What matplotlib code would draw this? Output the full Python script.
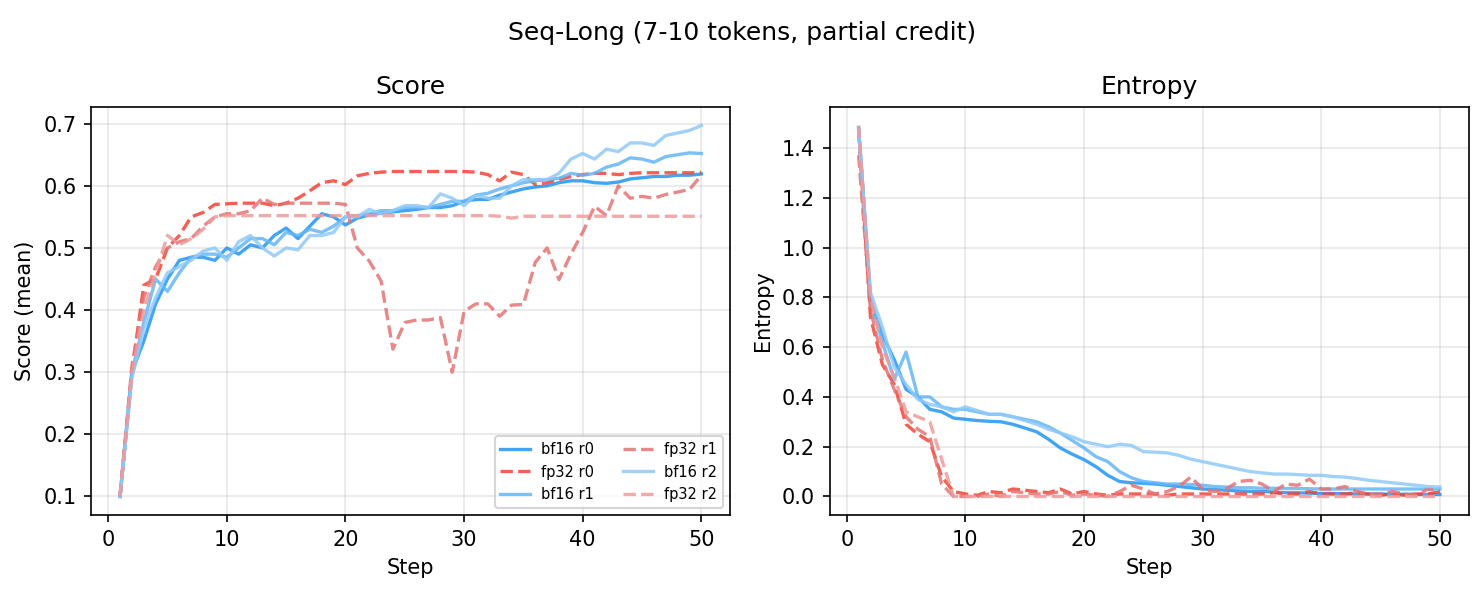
import matplotlib
matplotlib.use("Agg")
import matplotlib.pyplot as plt

steps = list(range(1, 51))

# --- score (mean) per step ---
score_bf16_r0 = [0.10, 0.30, 0.35, 0.41, 0.45, 0.48, 0.485, 0.485, 0.48, 0.50,
                 0.49, 0.505, 0.50, 0.52, 0.532, 0.515, 0.535, 0.555, 0.55, 0.537,
                 0.548, 0.553, 0.556, 0.558, 0.56, 0.562, 0.565, 0.565, 0.568, 0.575,
                 0.578, 0.578, 0.585, 0.59, 0.595, 0.598, 0.60, 0.605, 0.608, 0.608,
                 0.605, 0.604, 0.606, 0.611, 0.613, 0.615, 0.615, 0.617, 0.617, 0.619]
score_bf16_r1 = [0.10, 0.30, 0.38, 0.45, 0.43, 0.46, 0.485, 0.49, 0.49, 0.485,
                 0.50, 0.515, 0.515, 0.505, 0.525, 0.52, 0.53, 0.525, 0.535, 0.55,
                 0.552, 0.555, 0.56, 0.56, 0.565, 0.565, 0.565, 0.57, 0.575, 0.575,
                 0.585, 0.588, 0.595, 0.60, 0.605, 0.608, 0.61, 0.612, 0.62, 0.617,
                 0.62, 0.63, 0.635, 0.645, 0.643, 0.638, 0.647, 0.65, 0.653, 0.652]
score_bf16_r2 = [0.10, 0.29, 0.37, 0.42, 0.46, 0.47, 0.48, 0.495, 0.50, 0.48,
                 0.51, 0.52, 0.50, 0.487, 0.50, 0.497, 0.52, 0.52, 0.525, 0.55,
                 0.55, 0.562, 0.555, 0.56, 0.568, 0.568, 0.565, 0.587, 0.58, 0.568,
                 0.585, 0.58, 0.58, 0.60, 0.61, 0.61, 0.61, 0.62, 0.643, 0.652,
                 0.643, 0.659, 0.655, 0.669, 0.669, 0.665, 0.681, 0.685, 0.689, 0.697]
score_fp32_r0 = [0.10, 0.30, 0.44, 0.45, 0.50, 0.52, 0.55, 0.557, 0.57, 0.571,
                 0.572, 0.572, 0.572, 0.568, 0.572, 0.58, 0.592, 0.605, 0.608, 0.602,
                 0.616, 0.62, 0.622, 0.623, 0.623, 0.623, 0.623, 0.623, 0.623, 0.623,
                 0.622, 0.618, 0.608, 0.622, 0.618, 0.602, 0.605, 0.61, 0.615, 0.618,
                 0.62, 0.62, 0.618, 0.62, 0.621, 0.621, 0.621, 0.621, 0.621, 0.621]
score_fp32_r1 = [0.10, 0.31, 0.42, 0.47, 0.50, 0.51, 0.515, 0.535, 0.55, 0.555,
                 0.555, 0.56, 0.58, 0.57, 0.572, 0.572, 0.572, 0.572, 0.572, 0.57,
                 0.50, 0.479, 0.447, 0.337, 0.38, 0.384, 0.384, 0.388, 0.30, 0.398,
                 0.41, 0.41, 0.39, 0.408, 0.409, 0.477, 0.50, 0.449, 0.49, 0.525,
                 0.567, 0.552, 0.60, 0.58, 0.583, 0.58, 0.586, 0.59, 0.594, 0.617]
score_fp32_r2 = [0.10, 0.30, 0.40, 0.46, 0.52, 0.505, 0.515, 0.53, 0.55, 0.552,
                 0.552, 0.552, 0.552, 0.552, 0.552, 0.552, 0.552, 0.552, 0.552, 0.552,
                 0.552, 0.552, 0.552, 0.552, 0.552, 0.552, 0.552, 0.552, 0.552, 0.552,
                 0.552, 0.552, 0.551, 0.548, 0.551, 0.551, 0.551, 0.551, 0.551, 0.551,
                 0.551, 0.551, 0.551, 0.551, 0.551, 0.551, 0.551, 0.551, 0.551, 0.551]

# --- entropy per step ---
ent_bf16_r0 = [1.48, 0.78, 0.65, 0.55, 0.43, 0.40, 0.35, 0.34, 0.315, 0.31,
               0.305, 0.302, 0.30, 0.29, 0.275, 0.26, 0.23, 0.195, 0.17, 0.148,
               0.12, 0.085, 0.06, 0.055, 0.053, 0.05, 0.045, 0.04, 0.035, 0.03,
               0.028, 0.025, 0.022, 0.02, 0.02, 0.018, 0.015, 0.015, 0.013, 0.012,
               0.012, 0.011, 0.01, 0.01, 0.01, 0.009, 0.009, 0.008, 0.008, 0.008]
ent_bf16_r1 = [1.48, 0.80, 0.62, 0.47, 0.58, 0.40, 0.40, 0.36, 0.35, 0.35,
               0.34, 0.33, 0.33, 0.32, 0.31, 0.30, 0.28, 0.255, 0.225, 0.195,
               0.16, 0.14, 0.10, 0.075, 0.06, 0.055, 0.05, 0.05, 0.048, 0.045,
               0.04, 0.038, 0.035, 0.035, 0.033, 0.033, 0.032, 0.032, 0.031, 0.03,
               0.03, 0.03, 0.03, 0.03, 0.03, 0.03, 0.03, 0.03, 0.03, 0.03]
ent_bf16_r2 = [1.47, 0.82, 0.68, 0.52, 0.45, 0.39, 0.37, 0.36, 0.34, 0.36,
               0.345, 0.33, 0.33, 0.32, 0.305, 0.29, 0.27, 0.255, 0.24, 0.22,
               0.21, 0.20, 0.21, 0.205, 0.18, 0.178, 0.175, 0.165, 0.15, 0.14,
               0.13, 0.12, 0.11, 0.10, 0.095, 0.09, 0.09, 0.088, 0.085, 0.085,
               0.08, 0.078, 0.072, 0.065, 0.06, 0.055, 0.05, 0.045, 0.04, 0.038]
ent_fp32_r0 = [1.47, 0.72, 0.53, 0.45, 0.29, 0.25, 0.22, 0.08, 0.02, 0.01,
               0.005, 0.02, 0.015, 0.03, 0.025, 0.02, 0.015, 0.03, 0.01, 0.02,
               0.01, 0.005, 0.01, 0.01, 0.01, 0.01, 0.005, 0.01, 0.01, 0.01,
               0.01, 0.01, 0.01, 0.01, 0.01, 0.015, 0.01, 0.01, 0.02, 0.01,
               0.01, 0.01, 0.015, 0.01, 0.005, 0.01, 0.005, 0.01, 0.01, 0.02]
ent_fp32_r1 = [1.37, 0.75, 0.55, 0.43, 0.32, 0.27, 0.24, 0.05, 0.0, 0.0,
               0.0, 0.01, 0.0, 0.02, 0.015, 0.01, 0.01, 0.02, 0.005, 0.01,
               0.005, 0.0, 0.02, 0.045, 0.03, 0.01, 0.02, 0.04, 0.078, 0.03,
               0.02, 0.03, 0.06, 0.065, 0.05, 0.02, 0.05, 0.045, 0.07, 0.03,
               0.03, 0.04, 0.02, 0.01, 0.01, 0.02, 0.01, 0.005, 0.03, 0.025]
ent_fp32_r2 = [1.49, 0.80, 0.60, 0.48, 0.34, 0.32, 0.30, 0.15, 0.0, 0.0,
               0.0, 0.0, 0.0, 0.0, 0.0, 0.0, 0.0, 0.0, 0.0, 0.0,
               0.0, 0.0, 0.0, 0.0, 0.0, 0.0, 0.0, 0.0, 0.0, 0.0,
               0.0, 0.0, 0.0, 0.0, 0.0, 0.0, 0.0, 0.0, 0.0, 0.0,
               0.0, 0.0, 0.0, 0.0, 0.0, 0.0, 0.0, 0.0, 0.0, 0.0]

# (label, score, entropy, colour, linestyle) in legend order
runs = [
    ("bf16 r0", score_bf16_r0, ent_bf16_r0, "#2196f3", "-"),
    ("fp32 r0", score_fp32_r0, ent_fp32_r0, "#f44336", "--"),
    ("bf16 r1", score_bf16_r1, ent_bf16_r1, "#64b5f6", "-"),
    ("fp32 r1", score_fp32_r1, ent_fp32_r1, "#e57373", "--"),
    ("bf16 r2", score_bf16_r2, ent_bf16_r2, "#90caf9", "-"),
    ("fp32 r2", score_fp32_r2, ent_fp32_r2, "#ef9a9a", "--"),
]

fig, (ax1, ax2) = plt.subplots(1, 2, figsize=(1484 / 150, 593 / 150), dpi=150)
fig.subplots_adjust(left=0.0613, right=0.9899, bottom=0.1315, top=0.8196, wspace=0.155)

for label, sc, en, col, ls in runs:
    ax1.plot(steps, sc, ls, color=col, linewidth=1.6, alpha=0.85, label=label)
    ax2.plot(steps, en, ls, color=col, linewidth=1.6, alpha=0.85, label=label)

ax1.set_title("Score")
ax1.set_xlabel("Step")
ax1.set_ylabel("Score (mean)")
ax1.grid(True, alpha=0.3)
ax1.legend(loc="lower right", ncol=2, fontsize=7)

ax2.set_title("Entropy")
ax2.set_xlabel("Step")
ax2.set_ylabel("Entropy")
ax2.grid(True, alpha=0.3)

fig.suptitle("Seq-Long (7-10 tokens, partial credit)", y=0.965)
fig.savefig("out.png", dpi=150)
